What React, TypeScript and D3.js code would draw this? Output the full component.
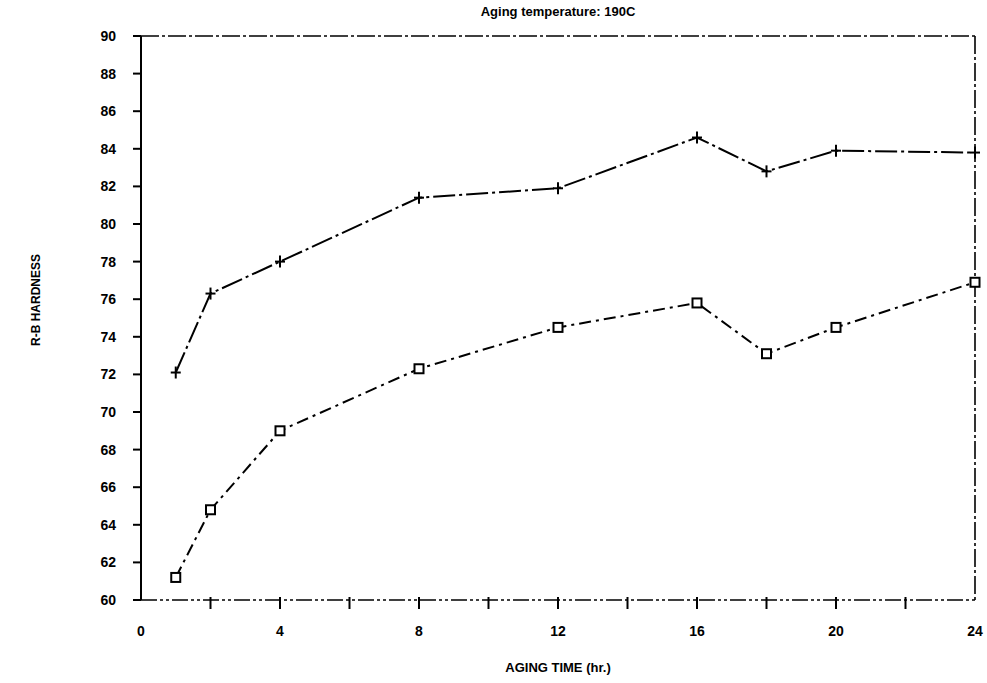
import React from "react";
import * as d3 from "d3";

const times = [1, 2, 4, 8, 12, 16, 18, 20, 24];
const plusSeries = [72.1, 76.3, 78.0, 81.4, 81.9, 84.6, 82.8, 83.9, 83.8];
const squareSeries = [61.2, 64.8, 69.0, 72.3, 74.5, 75.8, 73.1, 74.5, 76.9];
const yTicks = [60, 62, 64, 66, 68, 70, 72, 74, 76, 78, 80, 82, 84, 86, 88, 90];
const xMinorTicks = [2, 4, 6, 8, 10, 12, 14, 16, 18, 20, 22];
const xLabels = [0, 4, 8, 12, 16, 20, 24];

const W = 987;
const H = 683;
const L = 141, R = 975, T = 36, B = 600;

export default function App() {
  const x = d3.scaleLinear().domain([0, 24]).range([L, R]);
  const y = d3.scaleLinear().domain([60, 90]).range([B, T]);
  const line = d3
    .line<number>()
    .x((_, i) => x(times[i]))
    .y((d) => y(d));
  const font = "'Liberation Sans', Arial, sans-serif";
  return (
    <svg
      width={W}
      height={H}
      style={{ position: "absolute", left: 0, top: 0, background: "#fff" }}
      fontFamily={font}
      fontWeight="bold"
    >
      <text x={558} y={16} textAnchor="middle" fontSize={13}>
        Aging temperature: 190C
      </text>
      {/* frame */}
      <line x1={L} x2={L} y1={T} y2={B} stroke="#000" strokeWidth={2} />
      <line x1={L} x2={R} y1={T} y2={T} stroke="#000" strokeWidth={1.6} strokeDasharray="18,3,3,3" />
      <line x1={R} x2={R} y1={T} y2={B} stroke="#000" strokeWidth={1.6} strokeDasharray="18,3,3,3" />
      <line x1={L} x2={R} y1={B} y2={B} stroke="#000" strokeWidth={1.6} strokeDasharray="16,3,3,3,3,3" />
      {/* y ticks */}
      {yTicks.map((t) => (
        <g key={t}>
          <line x1={L - 8} x2={L} y1={y(t)} y2={y(t)} stroke="#000" strokeWidth={2} />
          <text x={L - 25} y={y(t) + 5} textAnchor="end" fontSize={14}>
            {t}
          </text>
        </g>
      ))}
      {/* x ticks */}
      {xMinorTicks.map((t) => (
        <line key={t} x1={x(t)} x2={x(t)} y1={B - 3} y2={B + 9} stroke="#000" strokeWidth={2} />
      ))}
      {xLabels.map((t) => (
        <text key={t} x={x(t)} y={636} textAnchor="middle" fontSize={14}>
          {t}
        </text>
      ))}
      <text x={558} y={672} textAnchor="middle" fontSize={13}>
        AGING TIME (hr.)
      </text>
      <text
        transform={`translate(40,300) rotate(-90)`}
        textAnchor="middle"
        fontSize={12}
      >
        R-B HARDNESS
      </text>
      {/* series */}
      <path d={line(plusSeries) || ""} fill="none" stroke="#000" strokeWidth={2} strokeDasharray="22,4,3,4" />
      <path d={line(squareSeries) || ""} fill="none" stroke="#000" strokeWidth={2} strokeDasharray="12,5,3,5" />
      {plusSeries.map((v, i) => (
        <g key={"p" + i} stroke="#000" strokeWidth={2}>
          <line x1={x(times[i]) - 5} x2={x(times[i]) + 5} y1={y(v)} y2={y(v)} />
          <line x1={x(times[i])} x2={x(times[i])} y1={y(v) - 6} y2={y(v) + 6} />
        </g>
      ))}
      {squareSeries.map((v, i) => (
        <rect
          key={"s" + i}
          x={x(times[i]) - 4.5}
          y={y(v) - 4.5}
          width={9}
          height={9}
          fill="#fff"
          stroke="#000"
          strokeWidth={2}
        />
      ))}
    </svg>
  );
}
